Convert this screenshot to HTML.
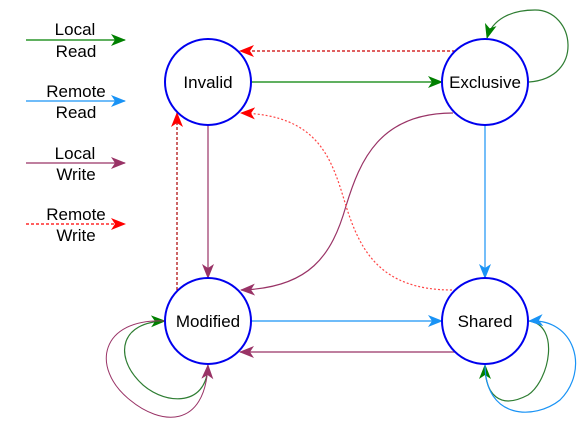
<!DOCTYPE html>
<html><head><style>body{margin:0;background:#fff}svg{display:block}</style></head><body>
<svg width="583" height="432" viewBox="0 0 583 432" xmlns="http://www.w3.org/2000/svg" font-family="Liberation Sans, sans-serif">
<defs>
<marker id="g" markerWidth="15" markerHeight="12" refX="14" refY="6" orient="auto" markerUnits="userSpaceOnUse"><path d="M0,0 L15,6 L0,12 L4,6z" fill="#008000"/></marker>
<marker id="b" markerWidth="15" markerHeight="12" refX="14" refY="6" orient="auto" markerUnits="userSpaceOnUse"><path d="M0,0 L15,6 L0,12 L4,6z" fill="#1993f5"/></marker>
<marker id="p" markerWidth="15" markerHeight="12" refX="14" refY="6" orient="auto" markerUnits="userSpaceOnUse"><path d="M0,0 L15,6 L0,12 L4,6z" fill="#993366"/></marker>
<marker id="r" markerWidth="15" markerHeight="12" refX="14" refY="6" orient="auto" markerUnits="userSpaceOnUse"><path d="M0,0 L15,6 L0,12 L4,6z" fill="#ff0000"/></marker>
</defs>
<g fill="none" stroke-width="1.2">
<line x1="26" y1="40" x2="125" y2="40" stroke="#008000" marker-end="url(#g)"/>
<line x1="26" y1="101" x2="125" y2="101" stroke="#1993f5" marker-end="url(#b)"/>
<line x1="26" y1="163" x2="125" y2="163" stroke="#993366" marker-end="url(#p)"/>
<line x1="26" y1="224" x2="125" y2="224" stroke="#ff0000" stroke-dasharray="3,2" marker-end="url(#r)"/>
<line x1="251" y1="82" x2="442" y2="82" stroke="#008000" marker-end="url(#g)"/>
<line x1="455" y1="51" x2="240" y2="51" stroke="#cc0000" stroke-dasharray="3,2" marker-end="url(#r)"/>
<line x1="208" y1="125" x2="208" y2="278" stroke="#993366" marker-end="url(#p)"/>
<line x1="177" y1="290" x2="177" y2="113" stroke="#aa0000" stroke-dasharray="3,2" marker-end="url(#r)"/>
<line x1="485" y1="125" x2="485" y2="278" stroke="#1993f5" marker-end="url(#b)"/>
<line x1="251" y1="321" x2="442" y2="321" stroke="#1993f5" marker-end="url(#b)"/>
<line x1="455" y1="352" x2="240" y2="352" stroke="#993366" marker-end="url(#p)"/>
<path d="M453,113 C380,113 360,160 346,206 C332,255 310,288 241,290" stroke="#993366" marker-end="url(#p)"/>
<path d="M452,290 C380,290 360,250 346,206 C332,160 320,115 241,113" stroke="#ff4444" stroke-dasharray="2,2" marker-end="url(#r)"/>
<path d="M529,82 C585,78 575,10 535,10 C510,10 492,20 487,38" stroke="#2e7d32" marker-end="url(#g)"/>
<path d="M208,364 C208,410 160,405 138,380 C115,355 120,322 165,321" stroke="#2e7d32" marker-end="url(#g)"/>
<path d="M165,321 C100,318 90,368 130,400 C160,425 205,430 208,365" stroke="#993366" stroke-width="1" marker-end="url(#p)"/>
<path d="M529,321 C560,325 550,380 528,395 C500,410 485,395 485,365" stroke="#2e7d32" marker-end="url(#g)"/>
<path d="M485,364 C485,420 535,420 560,400 C590,370 575,318 529,321" stroke="#1993f5" marker-end="url(#b)"/>
<circle cx="208" cy="82" r="43" stroke="#0000ee" stroke-width="2" fill="#fff"/>
<circle cx="485" cy="82" r="43" stroke="#0000ee" stroke-width="2" fill="#fff"/>
<circle cx="208" cy="321" r="43" stroke="#0000ee" stroke-width="2" fill="#fff"/>
<circle cx="485" cy="321" r="43" stroke="#0000ee" stroke-width="2" fill="#fff"/>
</g>
<g font-size="17" text-anchor="middle" fill="#000">
<text x="208" y="88">Invalid</text>
<text x="485" y="88">Exclusive</text>
<text x="208" y="327">Modified</text>
<text x="485" y="327">Shared</text>
<text x="75" y="35">Local</text><text x="76" y="57">Read</text>
<text x="76" y="97">Remote</text><text x="76" y="118">Read</text>
<text x="75" y="159">Local</text><text x="76" y="180">Write</text>
<text x="76" y="220">Remote</text><text x="76" y="241">Write</text>
</g>
</svg>
</body></html>
